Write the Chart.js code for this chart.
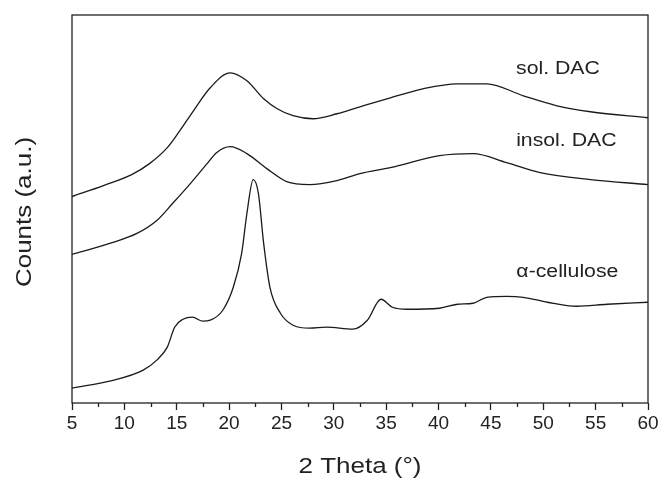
<!DOCTYPE html>
<html>
<head>
<meta charset="utf-8">
<script src="https://cdn.jsdelivr.net/npm/chart.js@4.4.0/dist/chart.umd.min.js"></script>
<style>
  html, body { margin: 0; padding: 0; background: #fff; }
  #wrap { width: 662px; height: 484px; }
</style>
</head>
<body>
<div id="wrap"><canvas id="xrd"></canvas></div>
<script>
// X-RAY DIFFRACTOGRAMS (arbitrary counts)
const sol_x = [5, 8, 10.7, 12.4, 14.1, 15.3, 16.6, 18.2, 20.1, 21.7, 23.3, 24.6, 26.1, 28, 30.3, 32.5, 35.4, 38.5, 41.8, 44.6, 48.1, 51.3, 54.5, 60];
const sol_y = [207, 218, 229, 240, 256, 273, 293, 316, 331, 323, 305, 295, 288, 285, 290, 297, 306, 315, 320, 320, 308, 298, 292, 286];

const insol_x = [5, 8.6, 11.2, 13.1, 14.6, 16.3, 17.9, 18.8, 20.1, 21.7, 23.6, 25.5, 27.7, 30.3, 32.5, 35.4, 40.1, 43.3, 46.5, 49.7, 54.5, 60];
const insol_y = [149, 160, 170, 183, 200, 220, 240, 251, 257, 250, 235, 222, 219, 223, 230, 236, 248, 250, 241, 231, 224, 219];

const cel_x = [5, 8.6, 11.8, 13.1, 14.1, 14.8, 15.6, 16.5, 17.5, 18.2, 19.4, 20.4, 21.2, 21.7, 22.3, 22.8, 23.3, 23.9, 24.9, 26.1, 27.7, 29.3, 31.8, 33.2, 34.5, 35.6, 37, 40.1, 41.8, 43.3, 44.6, 46.5, 48.1, 50.4, 53.2, 56.1, 60];
const cel_y = [15, 22, 33, 43, 56, 76, 84, 86, 82, 83, 93, 116, 150, 190, 224, 210, 160, 116, 90, 78, 75, 76, 74, 83, 104, 96, 94, 95, 99, 100, 106, 107, 106, 101, 97, 99, 101];

const series_names = ['sol. DAC', 'insol. DAC', '\u03b1-cellulose'];
// where the name of each curve is written (data coordinates)
const label_x = [51.4, 52.2, 52.3];
const label_y = [335, 263, 131];

const x_ticks = [5, 10, 15, 20, 25, 30, 35, 40, 45, 50, 55, 60];
const x_title = '2 Theta (\u00b0)';
const y_title = 'Counts (a.u.)';

function pares(xs, ys) {
    return xs.map((x, i) => ({ x: x, y: ys[i] }));
}

function serie(nome, xs, ys) {
    return {
        label: nome,
        data: pares(xs, ys),
        borderColor: '#1a1a1a',
        borderWidth: 1.3,
        pointRadius: 0,
        fill: false,
        cubicInterpolationMode: 'monotone'
    };
}

const fonte = '"Liberation Sans", Arial, sans-serif';

// texto um pouco esticado na horizontal, como no original
function texto(ctx, t, x, y, size, rot) {
    ctx.save();
    ctx.translate(x, y);
    if (rot) ctx.rotate(rot);
    ctx.scale(1.18, 1);
    ctx.font = size + 'px ' + fonte;
    ctx.textAlign = 'center';
    ctx.textBaseline = 'middle';
    ctx.fillText(t, 0, 0);
    ctx.restore();
}

// moldura + ticks menores + titulos + nomes das curvas
const extras = {
    id: 'extras',
    afterDraw(chart) {
        const ctx = chart.ctx;
        const a = chart.chartArea;
        const sx = chart.scales.x;
        const sy = chart.scales.y;
        ctx.save();
        ctx.strokeStyle = '#222';
        ctx.lineWidth = 1.3;
        ctx.strokeRect(a.left, a.top, a.right - a.left, a.bottom - a.top);
        for (let i = 0; i < x_ticks.length - 1; i++) {
            const px = Math.round(sx.getPixelForValue(x_ticks[i] + 2.5)) + 0.5;
            ctx.beginPath();
            ctx.moveTo(px, a.bottom);
            ctx.lineTo(px, a.bottom + 4);
            ctx.stroke();
        }
        ctx.fillStyle = '#222';
        series_names.forEach((n, i) => {
            texto(ctx, n, sx.getPixelForValue(label_x[i]), sy.getPixelForValue(label_y[i]), 18, 0);
        });
        texto(ctx, x_title, (a.left + a.right) / 2, a.bottom + 64, 22, 0);
        texto(ctx, y_title, a.left - 47, (a.top + a.bottom) / 2 + 3, 22, -Math.PI / 2);
        ctx.restore();
    }
};

const xrd_config = {
    type: 'line',
    data: {
        datasets: [
            serie(series_names[0], sol_x, sol_y),
            serie(series_names[1], insol_x, insol_y),
            serie(series_names[2], cel_x, cel_y)
        ]
    },
    options: {
        responsive: true,
        maintainAspectRatio: false,
        animation: false,
        layout: { padding: { left: 0, right: 14, top: 15, bottom: 0 } },
        scales: {
            x: {
                type: 'linear',
                min: 5,
                max: 60,
                afterBuildTicks: (s) => { s.ticks = x_ticks.map(v => ({ value: v })); },
                afterFit: (s) => { s.height = 81; },
                grid: {
                    drawOnChartArea: false,
                    drawTicks: true,
                    tickLength: 7,
                    tickColor: '#222',
                    tickWidth: 1.3
                },
                border: { display: false },
                ticks: {
                    color: '#222',
                    padding: 2,
                    maxRotation: 0,
                    font: { size: 19, family: fonte }
                }
            },
            y: {
                type: 'linear',
                min: 0,
                max: 389,
                afterFit: (s) => { s.width = 72; },
                grid: { display: false },
                border: { display: false },
                ticks: { display: false }
            }
        },
        plugins: {
            legend: { display: false },
            tooltip: { enabled: false }
        }
    },
    plugins: [extras]
};

const grafico_xrd = new Chart(document.getElementById('xrd'), xrd_config);
</script>
</body>
</html>
